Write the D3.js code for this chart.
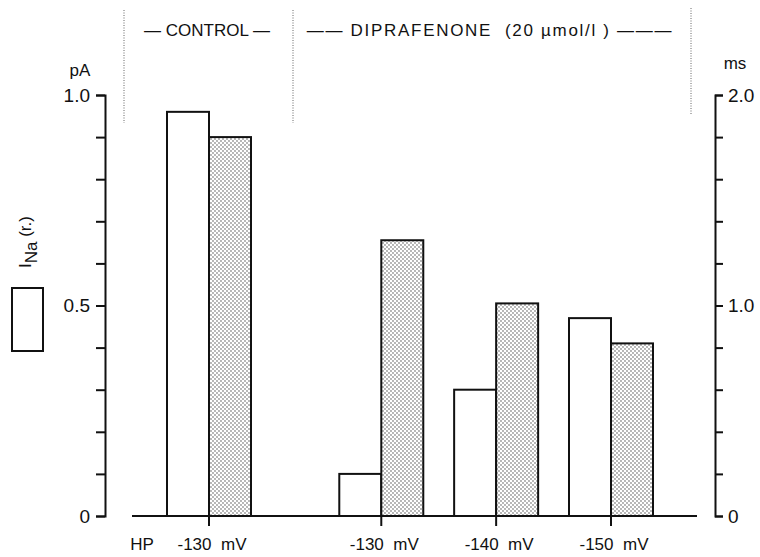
<!DOCTYPE html>
<html>
<head>
<meta charset="utf-8">
<script src="https://cdn.jsdelivr.net/npm/d3@7"></script>
<style>
  body { margin: 0; background: #fff; }
  text { font-family: "Liberation Sans", Arial, sans-serif; fill: #111; }
</style>
</head>
<body>
<svg id="chart"></svg>
<script>
// Data
const groups = ["control", "d130", "d140", "d150"];
const groupLabels = ["-130  mV", "-130  mV", "-140  mV", "-150  mV"];
const currentValues = [0.96, 0.10, 0.30, 0.47];   // I_Na (r.), left axis, pA
const timeValues = [1.80, 1.31, 1.01, 0.82];      // right axis, ms
const leftTickLabels = { 0: "0", 0.5: "0.5", 1: "1.0" };
const rightTickLabels = { 0: "0", 1: "1.0", 2: "2.0" };

const W = 760, H = 557;
const svg = d3.select("#chart").attr("width", W).attr("height", H);

// stipple fill for the second bar of each pair
const pat = svg.append("defs").append("pattern")
  .attr("id", "dots")
  .attr("patternUnits", "userSpaceOnUse")
  .attr("width", 4).attr("height", 4);
pat.append("rect").attr("width", 4).attr("height", 4).attr("fill", "#fff");
pat.append("circle").attr("cx", 1).attr("cy", 1).attr("r", 0.65).attr("fill", "#333");
pat.append("circle").attr("cx", 3).attr("cy", 3).attr("r", 0.65).attr("fill", "#333");

// Scales
const yLeft = d3.scaleLinear().domain([0, 1]).range([516, 95]);
const yRight = d3.scaleLinear().domain([0, 2]).range([516, 95]);
// control group stands apart, so it sits one and a half steps before the rest
const slot = i => (i === 0 ? 0 : i + 0.5);
const xGroup = d3.scaleLinear().domain([0, 3.5]).range([209, 611]);
const xSub = d3.scaleBand().domain(["current", "time"]).range([-42, 42]);

// Left axis
const leftAxis = svg.append("g")
  .attr("transform", "translate(105,0)")
  .call(d3.axisLeft(yLeft)
    .tickValues(d3.range(0, 11).map(d => d / 10))
    .tickSize(9).tickSizeOuter(9).tickPadding(6)
    .tickFormat(d => leftTickLabels[Math.round(d * 10) / 10] || ""));

// Right axis
const rightAxis = svg.append("g")
  .attr("transform", "translate(715,0)")
  .call(d3.axisRight(yRight)
    .tickValues(d3.range(0, 11).map(d => d / 5))
    .tickSize(8).tickSizeOuter(8).tickPadding(5)
    .tickFormat(d => rightTickLabels[Math.round(d * 10) / 10] || ""));

[leftAxis, rightAxis].forEach(ax => {
  ax.selectAll("path, line").attr("stroke", "#111").attr("stroke-width", 2);
  ax.selectAll("text").style("font-size", "19px").attr("fill", "#111");
});

// Unit labels
svg.append("text").attr("x", 80).attr("y", 76).attr("text-anchor", "middle")
  .style("font-size", "17px").text("pA");
svg.append("text").attr("x", 735).attr("y", 69).attr("text-anchor", "middle")
  .style("font-size", "17px").text("ms");

// Baseline with group ticks
svg.append("line")
  .attr("x1", 132).attr("x2", 697)
  .attr("y1", yLeft(0)).attr("y2", yLeft(0))
  .attr("stroke", "#111").attr("stroke-width", 2);

svg.selectAll(".gtick")
  .data(groups)
  .enter().append("line")
  .attr("x1", (d, i) => xGroup(slot(i)))
  .attr("x2", (d, i) => xGroup(slot(i)))
  .attr("y1", yLeft(0)).attr("y2", yLeft(0) + 10)
  .attr("stroke", "#111").attr("stroke-width", 2);

// Bars
const bars = svg.append("g");
groups.forEach((g, i) => {
  const cx = xGroup(slot(i));
  bars.append("rect")
    .attr("x", cx + xSub("current"))
    .attr("y", yLeft(currentValues[i]))
    .attr("width", xSub.bandwidth())
    .attr("height", yLeft(0) - yLeft(currentValues[i]))
    .attr("fill", "#fff").attr("stroke", "#111").attr("stroke-width", 2);
  bars.append("rect")
    .attr("x", cx + xSub("time"))
    .attr("y", yRight(timeValues[i]))
    .attr("width", xSub.bandwidth())
    .attr("height", yRight(0) - yRight(timeValues[i]))
    .attr("fill", "url(#dots)").attr("stroke", "#111").attr("stroke-width", 2);
});

// Category labels under the baseline
svg.selectAll(".glabel")
  .data(groupLabels)
  .enter().append("text")
  .attr("x", (d, i) => xGroup(slot(i)) + 3)
  .attr("y", 550)
  .attr("text-anchor", "middle")
  .style("font-size", "17px")
  .style("white-space", "pre")
  .text(d => d);
svg.append("text").attr("x", 142).attr("y", 550).attr("text-anchor", "middle")
  .style("font-size", "17px").text("HP");

// Dotted separators and header
[[124, 10, 123], [293, 10, 123], [691, 8, 115]].forEach(([x, y1, y2]) => {
  svg.append("line").attr("x1", x).attr("x2", x).attr("y1", y1).attr("y2", y2)
    .attr("stroke", "#666").attr("stroke-width", 1).attr("stroke-dasharray", "1,1.5");
});
svg.append("text").attr("x", 207).attr("y", 36).attr("text-anchor", "middle")
  .style("font-size", "17px").style("white-space", "pre")
  .text("\u2014 CONTROL \u2014");
svg.append("text").attr("x", 490).attr("y", 36).attr("text-anchor", "middle")
  .style("font-size", "17px").style("white-space", "pre").style("letter-spacing", "1.7px")
  .text("\u2014\u2014 DIPRAFENONE  (20 \u00b5mol/l ) \u2014\u2014\u2014");

// Y label, rotated, with subscript
const ylab = svg.append("text")
  .attr("transform", "translate(31,242) rotate(-90)")
  .attr("text-anchor", "middle")
  .style("font-size", "17px");
ylab.append("tspan").text("I");
ylab.append("tspan").attr("dy", 6).text("Na");
ylab.append("tspan").attr("dy", -6).style("white-space", "pre").text(" (r.)");

// Legend box
svg.append("rect").attr("x", 12).attr("y", 288).attr("width", 31).attr("height", 63)
  .attr("fill", "#fff").attr("stroke", "#111").attr("stroke-width", 2);
</script>
</body>
</html>
